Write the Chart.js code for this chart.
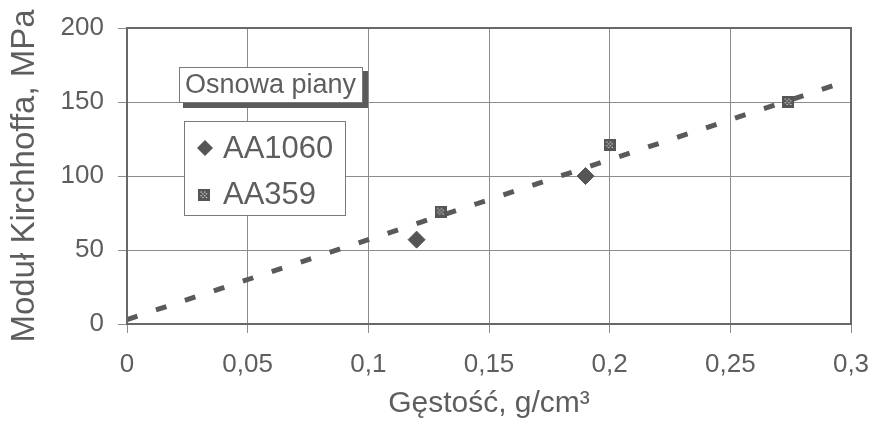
<!DOCTYPE html>
<html>
<head>
<meta charset="utf-8">
<script src="https://cdn.jsdelivr.net/npm/chart.js@4/dist/chart.umd.min.js"></script>
<style>
  html, body { margin: 0; padding: 0; background: #fff; }
  #wrap { width: 872px; height: 446px; position: relative; }
</style>
</head>
<body>
<div id="wrap"><canvas id="c" width="872" height="446"></canvas></div>
<script>
// Foam matrix samples: density (g/cm3) and Kirchhoff modulus (MPa)
const aa1060X = [0.12, 0.19];
const aa1060Y = [57, 100];
const aa359X = [0.13, 0.2, 0.274];
const aa359Y = [76, 121, 150];
// Linear trend endpoints
const trendX = [0, 0.3];
const trendY = [3, 165];

const xTickValues = [0, 0.05, 0.1, 0.15, 0.2, 0.25, 0.3];
const xTickLabels = ['0', '0,05', '0,1', '0,15', '0,2', '0,25', '0,3'];
const yTickValues = [0, 50, 100, 150, 200];
const yTickLabels = ['0', '50', '100', '150', '200'];

const seriesNames = ['AA1060', 'AA359'];
const legendTitle = 'Osnowa piany';
const xTitle = 'Gęstość, g/cm³';
const yTitle = 'Moduł Kirchhoffa, MPa';

const FONT = "'Liberation Sans', Arial, sans-serif";
const TEXT = '#5e5e5e';
const MARK = '#555555';

// Dotted square marker
function makeDottedSquare(size) {
  const cv = document.createElement('canvas');
  cv.width = size; cv.height = size;
  const g = cv.getContext('2d');
  g.fillStyle = MARK;
  g.fillRect(0, 0, size, size);
  g.fillStyle = '#e6e6e6';
  for (let i = 0; i < 4; i++) {
    for (let j = 0; j < 4; j++) {
      if ((i + j) % 2 === 0) g.fillRect(2.5 + i * 1.8, 2.5 + j * 1.8, 1.2, 1.2);
    }
  }
  return cv;
}
const squareImg = makeDottedSquare(12);

const pts = (xs, ys) => xs.map((x, i) => ({ x: x, y: ys[i] }));

// Frame around the plot area
const framePlugin = {
  id: 'frame',
  afterDatasetsDraw(chart) {
    const { ctx, chartArea: a } = chart;
    ctx.save();
    ctx.strokeStyle = '#686868';
    ctx.lineWidth = 2;
    ctx.strokeRect(a.left, a.top, a.right - a.left, a.bottom - a.top);
    ctx.restore();
  }
};

// Boxed legend with shadowed title
const boxLegend = {
  id: 'boxLegend',
  afterDraw(chart) {
    const ctx = chart.ctx;
    ctx.save();
    // title box with shadow
    ctx.fillStyle = '#5a5a5a';
    ctx.fillRect(183, 71, 185, 37);
    ctx.fillStyle = '#ffffff';
    ctx.fillRect(179, 67, 184, 36);
    ctx.strokeStyle = '#7a7a7a';
    ctx.lineWidth = 1;
    ctx.strokeRect(179.5, 67.5, 183, 35);
    ctx.fillStyle = TEXT;
    ctx.font = "27px " + FONT;
    ctx.textBaseline = 'middle';
    ctx.textAlign = 'left';
    ctx.fillText(legendTitle, 185, 86);

    // entries box
    ctx.fillStyle = '#ffffff';
    ctx.fillRect(184, 121, 162, 95);
    ctx.strokeRect(184.5, 121.5, 161, 94);
    ctx.fillStyle = MARK;
    ctx.beginPath();
    ctx.moveTo(205, 140); ctx.lineTo(213, 148); ctx.lineTo(205, 156); ctx.lineTo(197, 148);
    ctx.closePath(); ctx.fill();
    ctx.drawImage(squareImg, 198, 189);
    ctx.fillStyle = TEXT;
    ctx.font = "31px " + FONT;
    ctx.fillText(seriesNames[0], 223, 149);
    ctx.fillText(seriesNames[1], 223, 195);
    ctx.restore();
  }
};

new Chart(document.getElementById('c'), {
  type: 'scatter',
  data: {
    datasets: [
      {
        label: seriesNames[0],
        data: pts(aa1060X, aa1060Y),
        pointStyle: 'rectRot',
        pointRadius: 8.5,
        pointHoverRadius: 8.5,
        backgroundColor: MARK,
        borderColor: MARK,
        borderWidth: 1,
        order: 0
      },
      {
        label: seriesNames[1],
        data: pts(aa359X, aa359Y),
        pointStyle: squareImg,
        order: 0
      },
      {
        label: 'trend',
        data: pts(trendX, trendY),
        showLine: true,
        pointRadius: 0,
        borderColor: '#5a5a5a',
        borderWidth: 5,
        borderDash: [11, 19.5],
        borderCapStyle: 'butt',
        order: 1
      }
    ]
  },
  options: {
    responsive: false,
    animation: false,
    events: [],
    layout: { padding: { top: 28, right: 21, left: 0, bottom: 0 } },
    plugins: {
      legend: { display: false },
      tooltip: { enabled: false }
    },
    scales: {
      x: {
        type: 'linear',
        min: 0,
        max: 0.3,
        afterBuildTicks(s) { s.ticks = xTickValues.map(v => ({ value: v })); },
        afterFit(s) { s.height = 122; s.paddingLeft = 0; s.paddingRight = 0; },
        grid: { color: '#8c8c8c', lineWidth: 1, tickLength: 9, drawTicks: true },
        border: { display: false },
        ticks: {
          color: TEXT,
          font: { family: FONT, size: 26 },
          padding: 16,
          maxRotation: 0,
          callback: (v, i) => xTickLabels[i]
        },
        title: {
          display: true,
          text: xTitle,
          color: TEXT,
          font: { family: FONT, size: 30 },
          padding: { top: 0, bottom: 24 }
        }
      },
      y: {
        type: 'linear',
        min: 0,
        max: 200,
        afterBuildTicks(s) { s.ticks = yTickValues.map(v => ({ value: v })); },
        afterFit(s) { s.width = 127; s.paddingTop = 0; s.paddingBottom = 0; },
        grid: { color: '#8c8c8c', lineWidth: 1, tickLength: 9, drawTicks: true },
        border: { display: false },
        ticks: {
          color: TEXT,
          font: { family: FONT, size: 26 },
          padding: 14,
          callback: (v, i) => yTickLabels[i]
        },
        title: {
          display: true,
          text: yTitle,
          color: TEXT,
          font: { family: FONT, size: 33 },
          padding: { top: 5, bottom: 0 }
        }
      }
    }
  },
  plugins: [framePlugin, boxLegend]
});
</script>
</body>
</html>
